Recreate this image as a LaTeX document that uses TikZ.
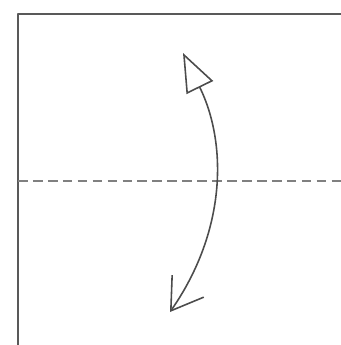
\documentclass[tikz,border=0pt]{standalone}
\usetikzlibrary{arrows.meta}
\begin{document}
\begin{tikzpicture}[x=0.02cm,y=-0.02cm,line join=round]
  \useasboundingbox (0,0) rectangle (341,345);
  \coordinate (top) at (183,53);
  \coordinate (bot) at (170,312);
  \draw[line width=1.1pt,black!65] (18,345) -- (18,14) -- (341,14);
  \draw[line width=1.5pt,black!50,dash pattern=on 5.5pt off 3pt] (18,181) -- (341,181);
  \draw[line width=0.9pt,black!70,
    {Triangle[open,length=0.77cm,width=0.59cm,fill=white]}-{Straight Barb[length=0.6cm,width=0.77cm]}]
    (top) .. controls (227,143) and (227,230) .. (bot);
\end{tikzpicture}
\end{document}
